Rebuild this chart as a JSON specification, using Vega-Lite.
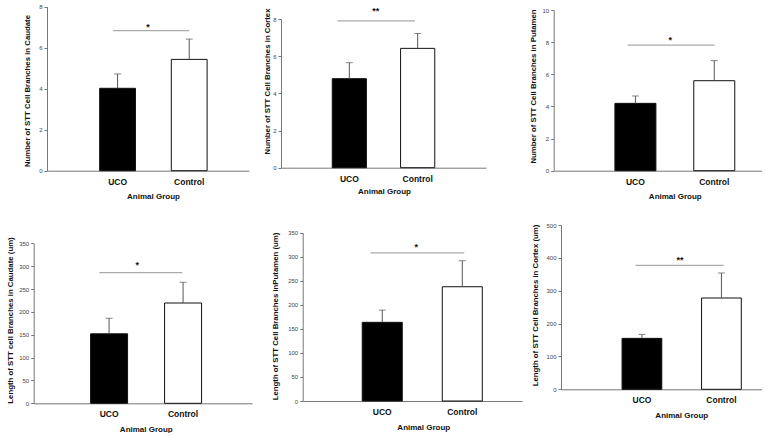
{
  "$schema": "https://vega.github.io/schema/vega-lite/v6.json",
  "background": "white",
  "padding": {"left": 6, "top": 0, "right": 0, "bottom": 0},
  "bounds": "flush",
  "columns": 3,
  "spacing": {"row": 20, "column": 10},
  "config": {
    "view": {"stroke": null},
    "font": "Liberation Sans",
    "axis": {"grid": false, "domainColor": "#777", "tickColor": "#777", "labelColor": "#444", "titleColor": "#111", "titleFontWeight": "bold", "titleBaseline": "middle", "labelOverlap": false},
    "axisY": {"labelFontSize": 6, "tickSize": 3, "labelPadding": 2, "titleFontSize": 7.8, "labelOverlap": false, "tickCount": 20},
    "axisX": {"labelFontSize": 8.5, "labelFontWeight": "bold", "labelColor": "#111", "ticks": false, "tickSize": 0, "labelPadding": 6.5, "titleFontSize": 8}
  },
  "concat": [
    {
      "width": 240, "height": 200,
      "data": {"values": [{"group": "UCO", "mean": 4.02, "upper": 4.72}, {"group": "Control", "mean": 5.43, "upper": 6.42}]},
      "layer": [
        {"mark": {"type": "bar", "stroke": "#111", "strokeWidth": 1},
         "encoding": {
           "x": {"field": "group", "type": "nominal", "sort": ["UCO", "Control"],
                 "scale": {"domain": ["UCO", "Control"], "range": [25, 227], "paddingInner": 0.5, "paddingOuter": 0.66, "align": 0.557},
                 "axis": {"title": "Animal Group", "labelAngle": 0, "offset": -29.3, "titleX": 131, "titleY": 26}},
           "y": {"field": "mean", "type": "quantitative",
                 "scale": {"domain": [0, 8], "range": [170.7, 6.7], "nice": false},
                 "axis": {"title": "Number of STT Cell Branches in Caudate", "values": [0, 2, 4, 6, 8], "format": "d", "tickCount": 20, "labelOverlap": false, "offset": -25, "titleX": -20, "titleY": 90.5}},
           "fill": {"field": "group", "type": "nominal", "scale": {"domain": ["UCO", "Control"], "range": ["#000000", "#ffffff"]}, "legend": null}
         }},
        {"mark": {"type": "rule", "color": "#555"},
         "encoding": {"x": {"field": "group", "type": "nominal"}, "y": {"field": "mean", "type": "quantitative"}, "y2": {"field": "upper"}}},
        {"mark": {"type": "tick", "size": 7, "thickness": 1, "color": "#555"},
         "encoding": {"x": {"field": "group", "type": "nominal"}, "y": {"field": "upper", "type": "quantitative"}}},
        {"data": {"values": [{"from": "UCO", "to": "Control", "sig": 6.83, "star_y": 7.14, "label": "*"}]},
         "mark": {"type": "rule", "color": "#aaa", "strokeWidth": 1.2},
         "encoding": {"x": {"field": "from", "type": "nominal", "bandPosition": 0.37}, "x2": {"field": "to", "bandPosition": 0.5}, "y": {"field": "sig", "type": "quantitative"}}},
        {"data": {"values": [{"from": "UCO", "to": "Control", "sig": 6.83, "star_y": 7.14, "label": "*"}]},
         "mark": {"type": "text", "fontSize": 9, "fontWeight": "bold", "baseline": "alphabetic", "dy": 6, "color": "#111"},
         "encoding": {"x": {"field": "from", "type": "nominal", "bandPosition": 1.35}, "y": {"field": "star_y", "type": "quantitative"}, "text": {"field": "label"}}}
      ]
    },
    {
      "width": 240, "height": 200,
      "data": {"values": [{"group": "UCO", "mean": 4.79, "upper": 5.65}, {"group": "Control", "mean": 6.42, "upper": 7.22}]},
      "layer": [
        {"mark": {"type": "bar", "stroke": "#111", "strokeWidth": 1},
         "encoding": {
           "x": {"field": "group", "type": "nominal", "sort": ["UCO", "Control"],
                 "scale": {"domain": ["UCO", "Control"], "range": [9, 214], "paddingInner": 0.5, "paddingOuter": 0.75, "align": 0.5},
                 "axis": {"title": "Animal Group", "labelAngle": 0, "offset": -32.3, "titleX": 112, "titleY": 24}},
           "y": {"field": "mean", "type": "quantitative",
                 "scale": {"domain": [0, 8], "range": [167.7, 19], "nice": false},
                 "axis": {"title": "Number of STT Cell Branches in Cortex", "values": [0, 2, 4, 6, 8], "format": "d", "tickCount": 20, "labelOverlap": false, "offset": -9, "titleX": -14, "titleY": 81}},
           "fill": {"field": "group", "type": "nominal", "scale": {"domain": ["UCO", "Control"], "range": ["#000000", "#ffffff"]}, "legend": null}
         }},
        {"mark": {"type": "rule", "color": "#555"},
         "encoding": {"x": {"field": "group", "type": "nominal"}, "y": {"field": "mean", "type": "quantitative"}, "y2": {"field": "upper"}}},
        {"mark": {"type": "tick", "size": 7, "thickness": 1, "color": "#555"},
         "encoding": {"x": {"field": "group", "type": "nominal"}, "y": {"field": "upper", "type": "quantitative"}}},
        {"data": {"values": [{"from": "UCO", "to": "Control", "sig": 7.9, "star_y": 8.57, "label": "**"}]},
         "mark": {"type": "rule", "color": "#aaa", "strokeWidth": 1.2},
         "encoding": {"x": {"field": "from", "type": "nominal", "bandPosition": 0.15}, "x2": {"field": "to", "bandPosition": 0.42}, "y": {"field": "sig", "type": "quantitative"}}},
        {"data": {"values": [{"from": "UCO", "to": "Control", "sig": 7.9, "star_y": 8.57, "label": "**"}]},
         "mark": {"type": "text", "fontSize": 9, "fontWeight": "bold", "baseline": "alphabetic", "dy": 6, "color": "#111"},
         "encoding": {"x": {"field": "from", "type": "nominal", "bandPosition": 1.27}, "y": {"field": "star_y", "type": "quantitative"}, "text": {"field": "label"}}}
      ]
    },
    {
      "width": 240, "height": 200,
      "data": {"values": [{"group": "UCO", "mean": 4.19, "upper": 4.65}, {"group": "Control", "mean": 5.6, "upper": 6.85}]},
      "layer": [
        {"mark": {"type": "bar", "stroke": "#111", "strokeWidth": 1},
         "encoding": {
           "x": {"field": "group", "type": "nominal", "sort": ["UCO", "Control"],
                 "scale": {"domain": ["UCO", "Control"], "range": [31.7, 258], "paddingInner": 0.48, "paddingOuter": 0.675, "align": 0.575},
                 "axis": {"title": "Animal Group", "labelAngle": 0, "offset": -29.3, "titleX": 152.8, "titleY": 25.3}},
           "y": {"field": "mean", "type": "quantitative",
                 "scale": {"domain": [0, 10], "range": [170.7, 10], "nice": false},
                 "axis": {"title": "Number of STT Cell Branches in Putamen", "values": [0, 2, 4, 6, 8, 10], "format": "d", "tickCount": 20, "labelOverlap": false, "offset": -31.7, "titleX": -20, "titleY": 86}},
           "fill": {"field": "group", "type": "nominal", "scale": {"domain": ["UCO", "Control"], "range": ["#000000", "#ffffff"]}, "legend": null}
         }},
        {"mark": {"type": "rule", "color": "#555"},
         "encoding": {"x": {"field": "group", "type": "nominal"}, "y": {"field": "mean", "type": "quantitative"}, "y2": {"field": "upper"}}},
        {"mark": {"type": "tick", "size": 7, "thickness": 1, "color": "#555"},
         "encoding": {"x": {"field": "group", "type": "nominal"}, "y": {"field": "upper", "type": "quantitative"}}},
        {"data": {"values": [{"from": "UCO", "to": "Control", "sig": 7.82, "star_y": 8.34, "label": "*"}]},
         "mark": {"type": "rule", "color": "#aaa", "strokeWidth": 1.2},
         "encoding": {"x": {"field": "from", "type": "nominal", "bandPosition": 0.31}, "x2": {"field": "to", "bandPosition": 0.51}, "y": {"field": "sig", "type": "quantitative"}}},
        {"data": {"values": [{"from": "UCO", "to": "Control", "sig": 7.82, "star_y": 8.34, "label": "*"}]},
         "mark": {"type": "text", "fontSize": 9, "fontWeight": "bold", "baseline": "alphabetic", "dy": 6, "color": "#111"},
         "encoding": {"x": {"field": "from", "type": "nominal", "bandPosition": 1.35}, "y": {"field": "star_y", "type": "quantitative"}, "text": {"field": "label"}}}
      ]
    },
    {
      "width": 240, "height": 200,
      "data": {"values": [{"group": "UCO", "mean": 152, "upper": 186}, {"group": "Control", "mean": 219.4, "upper": 264.7}]},
      "layer": [
        {"mark": {"type": "bar", "stroke": "#111", "strokeWidth": 1},
         "encoding": {
           "x": {"field": "group", "type": "nominal", "sort": ["UCO", "Control"],
                 "scale": {"domain": ["UCO", "Control"], "range": [11.7, 230], "paddingInner": 0.5, "paddingOuter": 0.725, "align": 0.53},
                 "axis": {"title": "Animal Group", "labelAngle": 0, "offset": -16.7, "titleX": 123.8, "titleY": 25.7}},
           "y": {"field": "mean", "type": "quantitative",
                 "scale": {"domain": [0, 350], "range": [183.3, 23.3], "nice": false},
                 "axis": {"title": "Length of STT cell Branches in Caudate (um)", "values": [0, 50, 100, 150, 200, 250, 300, 350], "format": "d", "tickCount": 20, "labelOverlap": false, "offset": -11.7, "titleX": -23.4, "titleY": 100}},
           "fill": {"field": "group", "type": "nominal", "scale": {"domain": ["UCO", "Control"], "range": ["#000000", "#ffffff"]}, "legend": null}
         }},
        {"mark": {"type": "rule", "color": "#555"},
         "encoding": {"x": {"field": "group", "type": "nominal"}, "y": {"field": "mean", "type": "quantitative"}, "y2": {"field": "upper"}}},
        {"mark": {"type": "tick", "size": 7, "thickness": 1, "color": "#555"},
         "encoding": {"x": {"field": "group", "type": "nominal"}, "y": {"field": "upper", "type": "quantitative"}}},
        {"data": {"values": [{"from": "UCO", "to": "Control", "sig": 285.8, "star_y": 309.8, "label": "*"}]},
         "mark": {"type": "rule", "color": "#aaa", "strokeWidth": 1.2},
         "encoding": {"x": {"field": "from", "type": "nominal", "bandPosition": 0.24}, "x2": {"field": "to", "bandPosition": 0.48}, "y": {"field": "sig", "type": "quantitative"}}},
        {"data": {"values": [{"from": "UCO", "to": "Control", "sig": 285.8, "star_y": 309.8, "label": "*"}]},
         "mark": {"type": "text", "fontSize": 9, "fontWeight": "bold", "baseline": "alphabetic", "dy": 6, "color": "#111"},
         "encoding": {"x": {"field": "from", "type": "nominal", "bandPosition": 1.26}, "y": {"field": "star_y", "type": "quantitative"}, "text": {"field": "label"}}}
      ]
    },
    {
      "width": 240, "height": 200,
      "data": {"values": [{"group": "UCO", "mean": 163.6, "upper": 189}, {"group": "Control", "mean": 237.6, "upper": 291.7}]},
      "layer": [
        {"mark": {"type": "bar", "stroke": "#111", "strokeWidth": 1},
         "encoding": {
           "x": {"field": "group", "type": "nominal", "sort": ["UCO", "Control"],
                 "scale": {"domain": ["UCO", "Control"], "range": [30.7, 250], "paddingInner": 0.5, "paddingOuter": 0.62, "align": 0.6},
                 "axis": {"title": "Animal Group", "labelAngle": 0, "offset": -19, "titleX": 151.3, "titleY": 26.3}},
           "y": {"field": "mean", "type": "quantitative",
                 "scale": {"domain": [0, 350], "range": [181, 12.7], "nice": false},
                 "axis": {"title": "Length of STT Cell Branches inPutamen (um)", "values": [0, 50, 100, 150, 200, 250, 300, 350], "format": "d", "tickCount": 20, "labelOverlap": false, "offset": -30.7, "titleX": -27.4, "titleY": 96}},
           "fill": {"field": "group", "type": "nominal", "scale": {"domain": ["UCO", "Control"], "range": ["#000000", "#ffffff"]}, "legend": null}
         }},
        {"mark": {"type": "rule", "color": "#555"},
         "encoding": {"x": {"field": "group", "type": "nominal"}, "y": {"field": "mean", "type": "quantitative"}, "y2": {"field": "upper"}}},
        {"mark": {"type": "tick", "size": 7, "thickness": 1, "color": "#555"},
         "encoding": {"x": {"field": "group", "type": "nominal"}, "y": {"field": "upper", "type": "quantitative"}}},
        {"data": {"values": [{"from": "UCO", "to": "Control", "sig": 308, "star_y": 326.4, "label": "*"}]},
         "mark": {"type": "rule", "color": "#aaa", "strokeWidth": 1.2},
         "encoding": {"x": {"field": "from", "type": "nominal", "bandPosition": 0.21}, "x2": {"field": "to", "bandPosition": 0.55}, "y": {"field": "sig", "type": "quantitative"}}},
        {"data": {"values": [{"from": "UCO", "to": "Control", "sig": 308, "star_y": 326.4, "label": "*"}]},
         "mark": {"type": "text", "fontSize": 9, "fontWeight": "bold", "baseline": "alphabetic", "dy": 6, "color": "#111"},
         "encoding": {"x": {"field": "from", "type": "nominal", "bandPosition": 1.35}, "y": {"field": "star_y", "type": "quantitative"}, "text": {"field": "label"}}}
      ]
    },
    {
      "width": 240, "height": 200,
      "data": {"values": [{"group": "UCO", "mean": 155, "upper": 167}, {"group": "Control", "mean": 277.8, "upper": 354}]},
      "layer": [
        {"mark": {"type": "bar", "stroke": "#111", "strokeWidth": 1},
         "encoding": {
           "x": {"field": "group", "type": "nominal", "sort": ["UCO", "Control"],
                 "scale": {"domain": ["UCO", "Control"], "range": [39, 260], "paddingInner": 0.5, "paddingOuter": 0.64, "align": 0.6},
                 "axis": {"title": "Animal Group", "labelAngle": 0, "offset": -30.7, "titleX": 159.3, "titleY": 25.7}},
           "y": {"field": "mean", "type": "quantitative",
                 "scale": {"domain": [0, 500], "range": [169.3, 5], "nice": false},
                 "axis": {"title": "Length of STT Cell Branches in Cortex (um)", "values": [0, 100, 200, 300, 400, 500], "format": "d", "tickCount": 20, "labelOverlap": false, "offset": -39, "titleX": -25.7, "titleY": 85}},
           "fill": {"field": "group", "type": "nominal", "scale": {"domain": ["UCO", "Control"], "range": ["#000000", "#ffffff"]}, "legend": null}
         }},
        {"mark": {"type": "rule", "color": "#555"},
         "encoding": {"x": {"field": "group", "type": "nominal"}, "y": {"field": "mean", "type": "quantitative"}, "y2": {"field": "upper"}}},
        {"mark": {"type": "tick", "size": 7, "thickness": 1, "color": "#555"},
         "encoding": {"x": {"field": "group", "type": "nominal"}, "y": {"field": "upper", "type": "quantitative"}}},
        {"data": {"values": [{"from": "UCO", "to": "Control", "sig": 377, "star_y": 403.5, "label": "**"}]},
         "mark": {"type": "rule", "color": "#aaa", "strokeWidth": 1.2},
         "encoding": {"x": {"field": "from", "type": "nominal", "bandPosition": 0.34}, "x2": {"field": "to", "bandPosition": 0.56}, "y": {"field": "sig", "type": "quantitative"}}},
        {"data": {"values": [{"from": "UCO", "to": "Control", "sig": 377, "star_y": 403.5, "label": "**"}]},
         "mark": {"type": "text", "fontSize": 9, "fontWeight": "bold", "baseline": "alphabetic", "dy": 6, "color": "#111"},
         "encoding": {"x": {"field": "from", "type": "nominal", "bandPosition": 1.46}, "y": {"field": "star_y", "type": "quantitative"}, "text": {"field": "label"}}}
      ]
    }
  ]
}
